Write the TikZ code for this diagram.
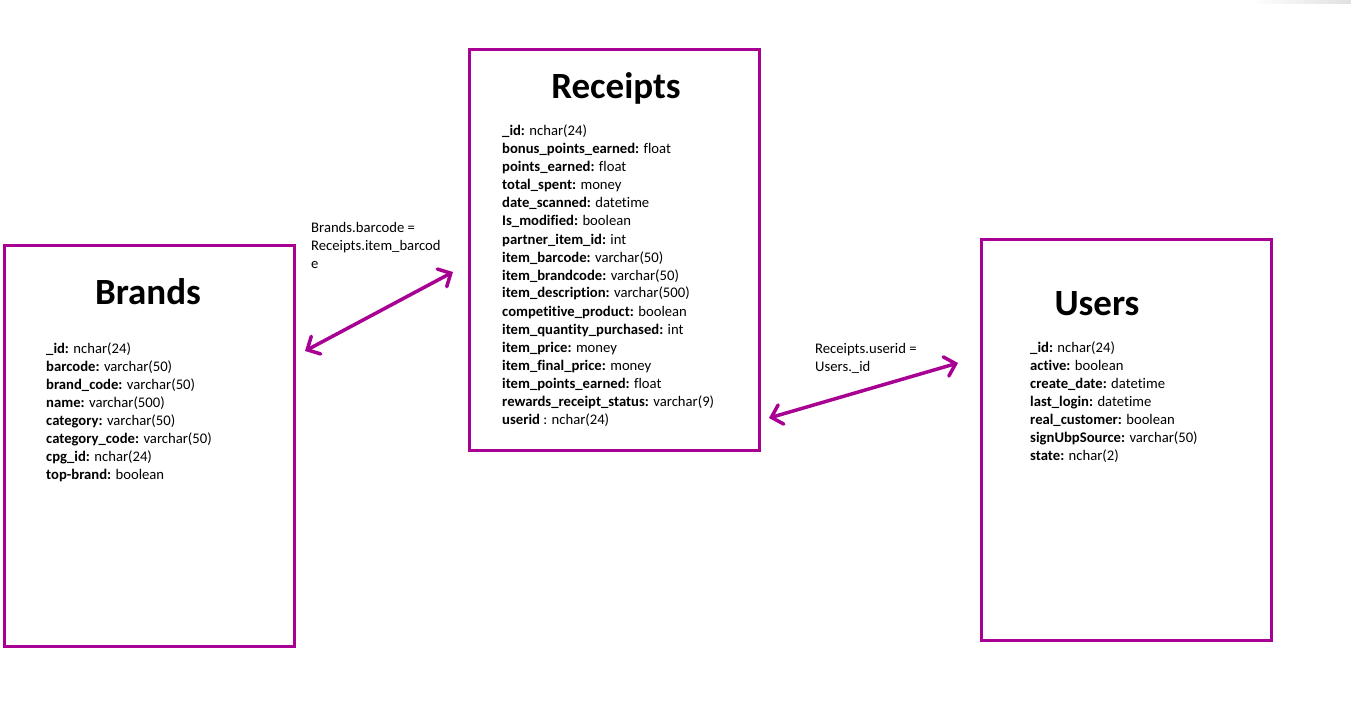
\documentclass[tikz,border=0pt]{standalone}
\usepackage{fontspec}
\setmainfont[Ligatures=NoCommon]{Carlito}
\usetikzlibrary{arrows.meta}
\definecolor{mag}{RGB}{168,0,146}
\tikzset{
  tbl/.style={draw=mag, line width=3pt},
  ttl/.style={font=\fontsize{37}{40}\selectfont\bfseries, anchor=base, inner sep=0pt},
  fld/.style={font=\fontsize{14.67}{18}\selectfont, anchor=base west, inner sep=0pt},
  rel/.style={draw=mag, line width=3.5pt, {Straight Barb[length=10pt,width=20pt,line cap=round]}-{Straight Barb[length=10pt,width=20pt,line cap=round]}},
}
\begin{document}
\begin{tikzpicture}[x=1pt,y=-1pt]
\useasboundingbox (0,0) rectangle (1351,719);
\fill[white] (0,0) rectangle (1351,719);
\shade[left color=white, right color=black!12] (1250,0) rectangle (1351,4);
% boxes
\draw[tbl] (4,246) rectangle (294,646);
\draw[tbl] (469,50) rectangle (759,450);
\draw[tbl] (981,240) rectangle (1271,640);
% titles
\node[ttl] (brandsT) at (148,304) {Brands};
\node[ttl] (receiptsT) at (616,99) {Receipts};
\node[ttl] (usersT) at (1097,315) {Users};
% fields
\foreach \b/\r [count=\i from 0] in {{\_id}/{nchar(24)},{barcode}/{varchar(50)},{brand\_code}/{varchar(50)},{name}/{varchar(500)},{category}/{varchar(50)},{category\_code}/{varchar(50)},{cpg\_id}/{nchar(24)},{top-brand}/{boolean}}
  \node[fld] (bf\i) at (46,353+18*\i) {\textbf{\b:} \r};
\foreach \b/\r [count=\i from 0] in {{\_id}/{nchar(24)},{bonus\_points\_earned}/{float},{points\_earned}/{float},{total\_spent}/{money},{date\_scanned}/{datetime},{Is\_modified}/{boolean},{partner\_item\_id}/{int},{item\_barcode}/{varchar(50)},{item\_brandcode}/{varchar(50)},{item\_description}/{varchar(500)},{competitive\_product}/{boolean},{item\_quantity\_purchased}/{int},{item\_price}/{money},{item\_final\_price}/{money},{item\_points\_earned}/{float},{rewards\_receipt\_status}/{varchar(9)}}
  \node[fld] (rf\i) at (502,136+18*\i) {\textbf{\b:} \r};
\node[fld] (rf16) at (502,136+18*16) {\textbf{userid} : nchar(24)};
\foreach \b/\r [count=\i from 0] in {{\_id}/{nchar(24)},{active}/{boolean},{create\_date}/{datetime},{last\_login}/{datetime},{real\_customer}/{boolean},{signUbpSource}/{varchar(50)},{state}/{nchar(2)}}
  \node[fld] (uf\i) at (1030,352+18*\i) {\textbf{\b:} \r};
% relation labels
\node[fld] (l1a) at (311,233) {Brands.barcode =};
\node[fld] (l1b) at (311,251) {Receipts.item\_barcod};
\node[fld] (l1c) at (311,269) {e};
\node[fld] (l2a) at (815,353) {Receipts.userid =};
\node[fld] (l2b) at (815,371) {Users.\_id};
% relations
\coordinate (a1s) at (305,351);
\coordinate (a1e) at (453,272);
\coordinate (a2s) at (769,418);
\coordinate (a2e) at (958,363);
\draw[rel] (a1s) -- (a1e);
\draw[rel] (a2s) -- (a2e);
\end{tikzpicture}
\end{document}
